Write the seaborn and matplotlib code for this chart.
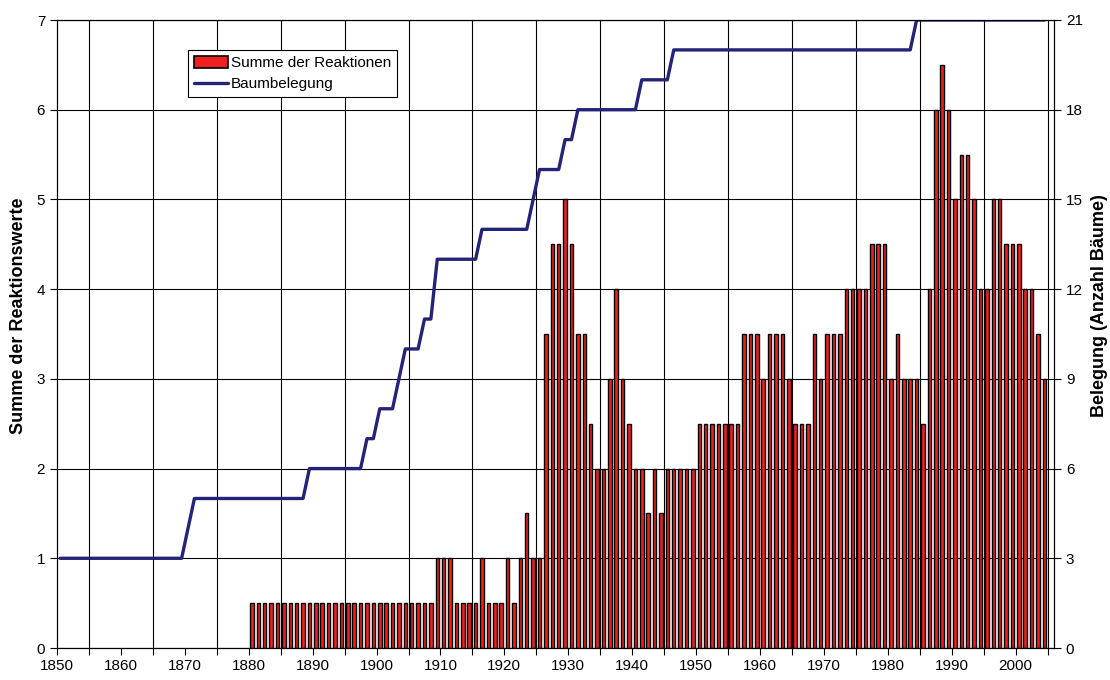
import matplotlib
matplotlib.use("Agg")
import matplotlib.pyplot as plt
import seaborn as sns
from matplotlib.patches import Patch
from matplotlib.lines import Line2D

# Number of sampled trees per year (right axis), 1850-2004
occupancy_years = list(range(1850, 2005))
occupancy = [
    3, 3, 3, 3, 3, 3, 3, 3, 3, 3,            # 1850-1859
    3, 3, 3, 3, 3, 3, 3, 3, 3, 3,            # 1860-1869
    4, 5, 5, 5, 5, 5, 5, 5, 5, 5,            # 1870-1879
    5, 5, 5, 5, 5, 5, 5, 5, 5, 6,            # 1880-1889
    6, 6, 6, 6, 6, 6, 6, 6, 7, 7,            # 1890-1899
    8, 8, 8, 9, 10, 10, 10, 11, 11, 13,      # 1900-1909
    13, 13, 13, 13, 13, 13, 14, 14, 14, 14,  # 1910-1919
    14, 14, 14, 14, 15, 16, 16, 16, 16, 17,  # 1920-1929
    17, 18, 18, 18, 18, 18, 18, 18, 18, 18,  # 1930-1939
    18, 19, 19, 19, 19, 19, 20, 20, 20, 20,  # 1940-1949
    20, 20, 20, 20, 20, 20, 20, 20, 20, 20,  # 1950-1959
    20, 20, 20, 20, 20, 20, 20, 20, 20, 20,  # 1960-1969
    20, 20, 20, 20, 20, 20, 20, 20, 20, 20,  # 1970-1979
    20, 20, 20, 20, 21, 21, 21, 21, 21, 21,  # 1980-1989
    21, 21, 21, 21, 21, 21, 21, 21, 21, 21,  # 1990-1999
    21, 21, 21, 21, 21,                      # 2000-2004
]

# Sum of reaction values per year (left axis), 1880-2004
reaction_years = list(range(1880, 2005))
reactions = [
    0.5, 0.5, 0.5, 0.5, 0.5, 0.5, 0.5, 0.5, 0.5, 0.5,  # 1880-1889
    0.5, 0.5, 0.5, 0.5, 0.5, 0.5, 0.5, 0.5, 0.5, 0.5,  # 1890-1899
    0.5, 0.5, 0.5, 0.5, 0.5, 0.5, 0.5, 0.5, 0.5, 1.0,  # 1900-1909
    1.0, 1.0, 0.5, 0.5, 0.5, 0.5, 1.0, 0.5, 0.5, 0.5,  # 1910-1919
    1.0, 0.5, 1.0, 1.5, 1.0, 1.0, 3.5, 4.5, 4.5, 5.0,  # 1920-1929
    4.5, 3.5, 3.5, 2.5, 2.0, 2.0, 3.0, 4.0, 3.0, 2.5,  # 1930-1939
    2.0, 2.0, 1.5, 2.0, 1.5, 2.0, 2.0, 2.0, 2.0, 2.0,  # 1940-1949
    2.5, 2.5, 2.5, 2.5, 2.5, 2.5, 2.5, 3.5, 3.5, 3.5,  # 1950-1959
    3.0, 3.5, 3.5, 3.5, 3.0, 2.5, 2.5, 2.5, 3.5, 3.0,  # 1960-1969
    3.5, 3.5, 3.5, 4.0, 4.0, 4.0, 4.0, 4.5, 4.5, 4.5,  # 1970-1979
    3.0, 3.5, 3.0, 3.0, 3.0, 2.5, 4.0, 6.0, 6.5, 6.0,  # 1980-1989
    5.0, 5.5, 5.5, 5.0, 4.0, 4.0, 5.0, 5.0, 4.5, 4.5,  # 1990-1999
    4.5, 4.0, 4.0, 3.5, 3.0,                           # 2000-2004
]

left_ticks = [0, 1, 2, 3, 4, 5, 6, 7]
right_ticks = [0, 3, 6, 9, 12, 15, 18, 21]
decade_labels = [str(y) for y in range(1850, 2001, 10)]

BAR_RED = "#F02020"
LINE_BLUE = "#232378"
W, H = 1110, 680
PLOT_L, PLOT_R, PLOT_T, PLOT_B = 57, 1054, 20, 648

sns.set_style("ticks")
plt.rcParams["font.family"] = ["Liberation Sans", "DejaVu Sans"]
plt.rcParams.update({
    "axes.edgecolor": "black",
    "axes.linewidth": 0.8,
    "text.color": "black",
    "axes.labelcolor": "black",
    "xtick.color": "black",
    "ytick.color": "black",
})

fig = plt.figure(figsize=(W / 100, H / 100), dpi=100)
ax = fig.add_axes([PLOT_L / W, 1 - PLOT_B / H,
                   (PLOT_R - PLOT_L) / W, (PLOT_B - PLOT_T) / H])

sns.barplot(x=reaction_years, y=reactions, native_scale=True, width=0.55,
            color=BAR_RED, saturation=1, edgecolor="black", linewidth=1.0,
            ax=ax)

ax2 = ax.twinx()
sns.lineplot(x=occupancy_years, y=occupancy, color=LINE_BLUE, linewidth=2.4,
             ax=ax2)

# Category-style x axis: each year occupies one slot, boundaries at x.5
ax.set_xlim(1849.5, 2005.5)
ax.set_xticks([y - 0.5 for y in range(1850, 2001, 10)])
ax.set_xticklabels(decade_labels)
ax.set_xticks([y - 0.5 for y in range(1850, 2006, 5)], minor=True)
ax.tick_params(axis="x", which="both", direction="out", length=5, width=0.8,
               color="black", labelcolor="black", labelsize=11, pad=3)

ax.set_ylim(0, 7)
ax.set_yticks(left_ticks)
ax.tick_params(axis="y", direction="out", length=5, width=0.8,
               color="black", labelcolor="black", labelsize=11)
ax2.set_ylim(0, 21)
ax2.set_yticks(right_ticks)
ax2.tick_params(axis="y", direction="out", length=5, width=0.8,
                color="black", labelcolor="black", labelsize=11)

# Grid: horizontal at each unit, vertical every five years
ax.set_axisbelow(True)
ax.grid(axis="y", which="major", color="black", linewidth=0.8)
ax.grid(axis="x", which="minor", color="black", linewidth=0.8)
ax.grid(axis="x", which="major", visible=False)
ax2.grid(False)

ax.set_xlabel("")
ax.set_ylabel("Summe der Reaktionswerte", fontsize=13, fontweight="bold",
              color="black")
ax2.set_ylabel("Belegung (Anzahl Bäume)", fontsize=13, fontweight="bold",
               color="black")
ax.yaxis.set_label_coords((27 - PLOT_L) / (PLOT_R - PLOT_L),
                          (PLOT_B - 316) / (PLOT_B - PLOT_T))
ax2.yaxis.set_label_coords((1091 - PLOT_L) / (PLOT_R - PLOT_L),
                           (PLOT_B - 306) / (PLOT_B - PLOT_T))

for a in (ax, ax2):
    for s in a.spines.values():
        s.set_color("black")
        s.set_linewidth(0.8)

handles = [
    Patch(facecolor=BAR_RED, edgecolor="black", linewidth=1.2),
    Line2D([0], [0], color=LINE_BLUE, linewidth=2.4),
]
labels = ["Summe der Reaktionen", "Baumbelegung"]
leg = ax2.legend(handles, labels, loc="upper left",
                 bbox_to_anchor=(188 / W, 1 - 50 / H),
                 bbox_transform=fig.transFigure, borderaxespad=0,
                 fontsize=11, frameon=True, fancybox=False, framealpha=1,
                 edgecolor="black", handlelength=2.2, handleheight=0.8,
                 handletextpad=0.2, labelspacing=0.45, borderpad=0.4)
leg.get_frame().set_linewidth(0.8)

fig.savefig("out.png", dpi=100)
